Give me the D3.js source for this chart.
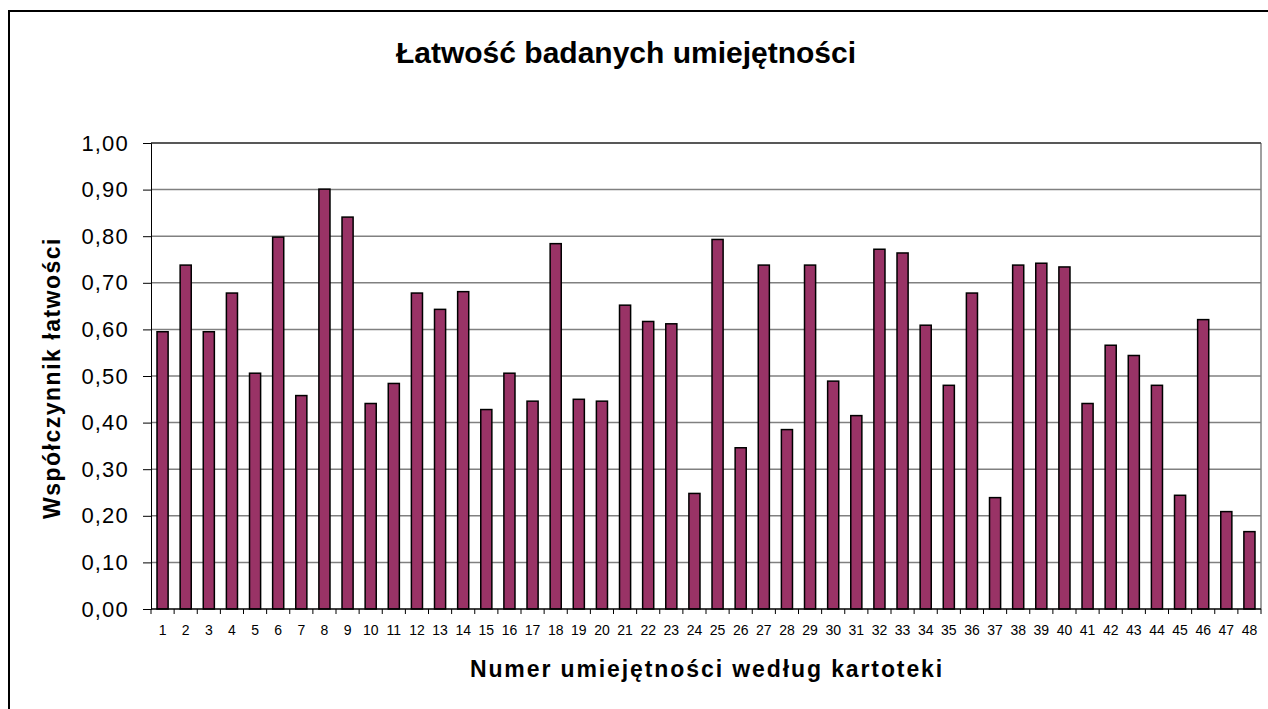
<!DOCTYPE html>
<html lang="pl">
<head>
  <meta charset="UTF-8">
  <title>Łatwość badanych umiejętności</title>
  <script src="https://d3js.org/d3.v7.min.js"></script>
  <style>
    body { margin: 0; background: #fff; }
    svg { display: block; font-family: Arial, "Liberation Sans", sans-serif; }
    .grid line { stroke: #808080; stroke-width: 1.5px; }
    .bar { fill: #993366; stroke: #000; stroke-width: 1.5px; }
  </style>
</head>
<body>
  <svg id="chart"></svg>
  <script>
    const width = 1268, height = 709;

    // numer umiejętności i współczynnik łatwości
    const categories = d3.range(1, 49).map(String);
    const values = [
      0.595, 0.738, 0.595, 0.678, 0.506, 0.798, 0.458, 0.901, 0.841, 0.441, 0.484, 0.678,
      0.643, 0.681, 0.428, 0.506, 0.446, 0.784, 0.450, 0.446, 0.652, 0.617, 0.612, 0.248,
      0.793, 0.346, 0.738, 0.385, 0.738, 0.489, 0.415, 0.772, 0.764, 0.609, 0.480, 0.678,
      0.239, 0.738, 0.742, 0.734, 0.441, 0.566, 0.544, 0.480, 0.244, 0.621, 0.209, 0.166
    ];
    const yTicks = [0, 0.1, 0.2, 0.3, 0.4, 0.5, 0.6, 0.7, 0.8, 0.9, 1.0];

    const title = "Łatwość badanych umiejętności";
    const xTitle = "Numer umiejętności według kartoteki";
    const yTitle = "Współczynnik łatwości";

    const plot = { left: 151, top: 143, right: 1261, bottom: 609 };

    const svg = d3.select("#chart").attr("width", width).attr("height", height);

    svg.append("rect").attr("width", width).attr("height", height).attr("fill", "#fff");

    // ramka wykresu (ucięta z prawej i od dołu)
    svg.append("rect")
      .attr("x", 9).attr("y", 11)
      .attr("width", width).attr("height", height)
      .attr("fill", "none").attr("stroke", "#000").attr("stroke-width", 2);

    const x = d3.scaleBand()
      .domain(categories)
      .range([plot.left, plot.right])
      .paddingInner(0.52)
      .paddingOuter(0.26);

    const y = d3.scaleLinear().domain([0, 1]).range([plot.bottom, plot.top]);

    const fmt = d => d3.format(".2f")(d).replace(".", ",");

    // linie siatki
    svg.append("g").attr("class", "grid")
      .selectAll("line").data(yTicks.filter(d => d > 0)).enter().append("line")
      .attr("x1", plot.left).attr("x2", plot.right)
      .attr("y1", d => y(d)).attr("y2", d => y(d));

    // prawa i górna krawędź obszaru
    svg.append("line")
      .attr("x1", plot.right).attr("x2", plot.right)
      .attr("y1", plot.top).attr("y2", plot.bottom)
      .attr("stroke", "#808080").attr("stroke-width", 1.5);

    svg.append("line")
      .attr("x1", plot.left).attr("x2", plot.right)
      .attr("y1", plot.top).attr("y2", plot.top)
      .attr("stroke", "#404040").attr("stroke-width", 1.5);

    svg.append("g").selectAll("rect").data(values).enter().append("rect")
      .attr("class", "bar")
      .attr("x", (d, i) => x(categories[i]))
      .attr("y", d => y(d))
      .attr("width", x.bandwidth())
      .attr("height", d => y(0) - y(d));

    // oś Y
    const yAxis = svg.append("g")
      .attr("transform", `translate(${plot.left},0)`)
      .call(d3.axisLeft(y).tickValues(yTicks).tickFormat(fmt).tickSize(8).tickPadding(14));
    yAxis.select(".domain").attr("stroke", "#000");
    yAxis.selectAll("text")
      .attr("font-size", 22).attr("letter-spacing", 1.2).attr("fill", "#000")
      .attr("font-family", "Arial, 'Liberation Sans', sans-serif");

    // oś X - podziałki na granicach kategorii
    svg.append("line")
      .attr("x1", plot.left).attr("x2", plot.right)
      .attr("y1", plot.bottom).attr("y2", plot.bottom)
      .attr("stroke", "#000").attr("stroke-width", 1.5);

    svg.append("g").selectAll("line").data(d3.range(categories.length + 1)).enter().append("line")
      .attr("x1", i => plot.left + i * x.step()).attr("x2", i => plot.left + i * x.step())
      .attr("y1", plot.bottom).attr("y2", plot.bottom + 5)
      .attr("stroke", "#000");

    svg.append("g").selectAll("text").data(categories).enter().append("text")
      .attr("x", d => x(d) + x.bandwidth() / 2)
      .attr("y", plot.bottom + 26)
      .attr("text-anchor", "middle")
      .attr("font-size", 14)
      .text(d => d);

    svg.append("text")
      .attr("x", 626).attr("y", 63)
      .attr("text-anchor", "middle")
      .attr("font-size", 30).attr("font-weight", "bold")
      .text(title);

    svg.append("text")
      .attr("x", (plot.left + plot.right) / 2 + 1).attr("y", 677)
      .attr("text-anchor", "middle")
      .attr("font-size", 23).attr("font-weight", "bold")
      .attr("letter-spacing", 1.9)
      .text(xTitle);

    svg.append("text")
      .attr("transform", `translate(60,378) rotate(-90)`)
      .attr("text-anchor", "middle")
      .attr("font-size", 23).attr("font-weight", "bold")
      .attr("letter-spacing", 1.5)
      .text(yTitle);
  </script>
</body>
</html>
